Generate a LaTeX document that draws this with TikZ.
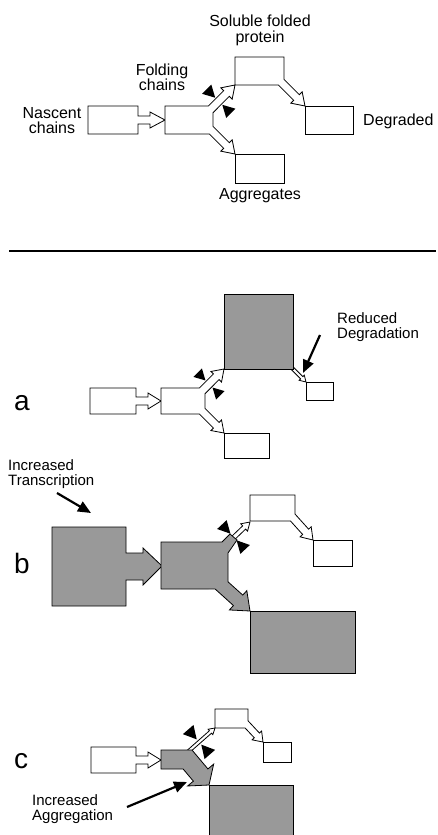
\documentclass[tikz,border=0pt]{standalone}
\usepackage{fontspec}
\setmainfont{Liberation Sans}
\usetikzlibrary{calc,arrows.meta}
\definecolor{shade}{gray}{0.6}

% arrow geometry: #1 name, #2 tip, #3 direction angle, #4 shaft half width, #5 head length, #6 head half width
\newcommand\arrowpts[6]{%
  \coordinate (#1t) at (#2);
  \coordinate (#1b) at ($(#1t)+(#3+180:#5)$);
  \coordinate (#1hl) at ($(#1b)+(#3-90:#6)$);
  \coordinate (#1hr) at ($(#1b)+(#3+90:#6)$);
  \coordinate (#1sl) at ($(#1b)+(#3-90:#4)$);
  \coordinate (#1sr) at ($(#1b)+(#3+90:#4)$);
  \coordinate (#1sl2) at ($(#1sl)+(#3+180:40)$);
  \coordinate (#1sr2) at ($(#1sr)+(#3+180:40)$);
}
% forked body: #1 style, #2 L, #3 T, #4 B, #5 notch x, #6 prefix (arrows #6U and #6D)
\newcommand\forkbody[6]{%
  \coordinate (fTL) at (#2,#3); \coordinate (fTR) at (#5,#3);
  \coordinate (fBL) at (#2,#4); \coordinate (fBR) at (#5,#4);
  \draw[#1] (fTL) -- (intersection of #6Usl--#6Usl2 and fTL--fTR) -- (#6Usl) -- (#6Uhl) -- (#6Ut)
    -- (#6Uhr) -- (#6Usr) -- (intersection of #6Usr--#6Usr2 and fTR--fBR)
    -- (intersection of #6Dsl--#6Dsl2 and fTR--fBR) -- (#6Dsl) -- (#6Dhl) -- (#6Dt) -- (#6Dhr)
    -- (#6Dsr) -- (intersection of #6Dsr--#6Dsr2 and fBL--fBR) -- (fBL) -- cycle;
}
% box with an outgoing arrow at its lower right: #1 style, #2 L, #3 T, #4 R, #5 B, #6 arrow name
\newcommand\boxarrow[6]{%
  \coordinate (bTR) at (#4,#3); \coordinate (bBR) at (#4,#5); \coordinate (bBL) at (#2,#5);
  \draw[#1] (#2,#3) -- (bTR) -- (intersection of #6sl--#6sl2 and bTR--bBR) -- (#6sl) -- (#6hl)
    -- (#6t) -- (#6hr) -- (#6sr) -- (intersection of #6sr--#6sr2 and bBL--bBR) -- (bBL) -- cycle;
}
% thin arrow: #1 style, #2 name, #3 start, #4 tip, #5 angle, #6 sw, #7 hl, #8 hw
\newcommand\thinarrow[8]{%
  \arrowpts{#2}{#4}{#5}{#6}{#7}{#8}
  \draw[#1] ($(#3)+(#5-90:#6)$) -- (#2sl) -- (#2hl) -- (#2t) -- (#2hr) -- (#2sr) -- ($(#3)+(#5+90:#6)$) -- cycle;
}
% pair of black wedges: #1 centre, #2 axis angle, #3 gap, #4 outer distance, #5 half base
\newcommand\wedgepair[5]{%
  \fill ($(#1)+(#2-90:#3)$) -- ($(#1)+(#2-90:#4)+(#2:#5)$) -- ($(#1)+(#2-90:#4)+(#2+180:#5)$) -- cycle;
  \fill ($(#1)+(#2+90:#3)$) -- ($(#1)+(#2+90:#4)+(#2:#5)$) -- ($(#1)+(#2+90:#4)+(#2+180:#5)$) -- cycle;
}

\begin{document}
\begin{tikzpicture}[x=1pt,y=-1pt,
  flow/.style={draw=black,line width=0.8pt,line join=miter,fill=white},
  shaded/.style={flow,fill=shade},
  pointer/.style={line width=2.2pt,-{Triangle[length=13pt,width=11pt]}},
  lbl/.style={font=\fontsize{16}{15.5}\selectfont,inner sep=0pt,align=center},
  note/.style={font=\fontsize{15}{15}\selectfont,inner sep=0pt,align=left},
  panel/.style={font=\fontsize{28}{28}\selectfont,inner sep=0pt}]
\useasboundingbox (0,0) rectangle (438,835);

% ================= top scheme =================
\draw[flow] (88,106) -- (138,106) -- (138,116) -- (150,116) -- (150,112) -- (165,120) -- (150,128)
  -- (150,124) -- (138,124) -- (138,134) -- (88,134) -- cycle;
\arrowpts{P0U}{235,85}{-45}{4}{12}{8}
\arrowpts{P0D}{235,154}{45}{4}{12}{8}
\forkbody{flow}{165}{106}{134}{213}{P0}
\arrowpts{E0}{305,106}{45}{4}{12}{8}
\boxarrow{flow}{235}{57}{284}{85}{E0}
\draw[flow] (305,106) rectangle (353,134);
\draw[flow] (235,154) rectangle (284,183);
\wedgepair{218.75,101.25}{-45}{5}{17}{6.5}

\node[lbl,anchor=base] (tsol) at (260,42.2) {Soluble folded\\protein};
\node[lbl,anchor=base] (tfold) at (162,90.5) {Folding\\chains};
\node[lbl,anchor=base] (tnasc) at (52,133.5) {Nascent\\chains};
\node[lbl,anchor=base west] (tdeg) at (363,125) {Degraded};
\node[lbl,anchor=base] (tagg) at (260,199) {Aggregates};

% rule
\coordinate (ruleL) at (9,251); \coordinate (ruleR) at (436,251);
\draw[line width=2.5pt] (ruleL) -- (ruleR);

% ================= panel a =================
\node[panel,anchor=base west] (la) at (14,410) {a};
\draw[flow] (90,388) -- (136,388) -- (136,397) -- (148,397) -- (148,393) -- (161,401) -- (148,409)
  -- (148,405) -- (136,405) -- (136,414) -- (90,414) -- cycle;
\arrowpts{PaU}{224,369}{-45}{4}{11}{7.5}
\arrowpts{PaD}{224,433}{45}{4}{11}{7.5}
\forkbody{flow}{161}{388}{414}{205}{Pa}
\thinarrow{flow}{Ea}{290,366}{306,382}{45}{1.6}{6}{3.6}
\draw[shaded] (224,294) rectangle (293,369);
\draw[flow] (306,382) rectangle (333,400);
\draw[flow] (224,433) rectangle (269,458);
\wedgepair{209,384}{-45}{5}{16}{6}
\node[note,anchor=base west] (tred) at (337,338) {Reduced\\Degradation};
\coordinate (redA) at (320,335); \coordinate (redB) at (303,373);
\draw[pointer] (redA) -- (redB);

% ================= panel b =================
\node[panel,anchor=base west] (lb) at (14,573) {b};
\node[note,anchor=base west] (ttr) at (8,485) {Increased\\Transcription};
\coordinate (trA) at (57,493); \coordinate (trB) at (91,513);
\draw[pointer] (trA) -- (trB);
\draw[shaded] (52,527) -- (126,527) -- (126,553) -- (143,553) -- (143,548) -- (162,566) -- (143,585)
  -- (143,580) -- (126,580) -- (126,606) -- (52,606) -- cycle;
\thinarrow{flow}{Ub}{230,541}{250,522}{-43}{2.2}{8}{5}
\arrowpts{PbD}{250,611}{42}{7}{16}{13}
\coordinate (nbT) at (228,553); \coordinate (nbB) at (228,589);
\coordinate (bbL) at (161,589);
\draw[shaded] (161,542) -- (222,542) -- (230,534) -- (237,540) -- (nbT)
  -- (intersection of PbDsl--PbDsl2 and nbT--nbB) -- (PbDsl) -- (PbDhl) -- (PbDt) -- (PbDhr)
  -- (PbDsr) -- (intersection of PbDsr--PbDsr2 and bbL--nbB) -- (bbL) -- cycle;
\arrowpts{Eb}{313,540}{48}{4}{11}{7.5}
\boxarrow{flow}{250}{495}{295}{521}{Eb}
\draw[flow] (313,540) rectangle (352,566);
\draw[shaded] (250,611) rectangle (355,673);
\wedgepair{233.5,537}{-43}{4.5}{17}{6.5}

% ================= panel c =================
\node[panel,anchor=base west] (lc) at (14,768) {c};
\draw[flow] (91,747) -- (136,747) -- (136,756) -- (148,756) -- (148,752) -- (161,760) -- (148,768)
  -- (148,764) -- (136,764) -- (136,773) -- (91,773) -- cycle;
\thinarrow{flow}{Uc}{187.7,752}{215,728}{-41}{1.6}{6}{3.6}
\arrowpts{G}{209,785}{50}{9.5}{13}{17}
\coordinate (cTL) at (161,750); \coordinate (cTR) at (230,750);
\coordinate (cBL) at (161,769); \coordinate (cBR) at (230,769);
\draw[shaded] (cTL) -- (intersection of Gsl--Gsl2 and cTL--cTR) -- (Gsl) -- (Ghl) -- (Gt) -- (Ghr)
  -- (Gsr) -- (intersection of Gsr--Gsr2 and cBL--cBR) -- (cBL) -- cycle;
\arrowpts{Ec}{263,742}{47}{3.5}{9}{6.5}
\boxarrow{flow}{215}{709}{248}{728}{Ec}
\draw[flow] (263,742) rectangle (291,762);
\draw[shaded] (209,840) -- (209,785) -- (293,785) -- (293,840);
\wedgepair{199,742}{-41}{3.5}{16.5}{7}
\node[note,anchor=base west] (tag) at (32,820) {Increased\\Aggregation};
\coordinate (agA) at (127,807); \coordinate (agB) at (187,782);
\draw[pointer] (agA) -- (agB);
\end{tikzpicture}
\end{document}
